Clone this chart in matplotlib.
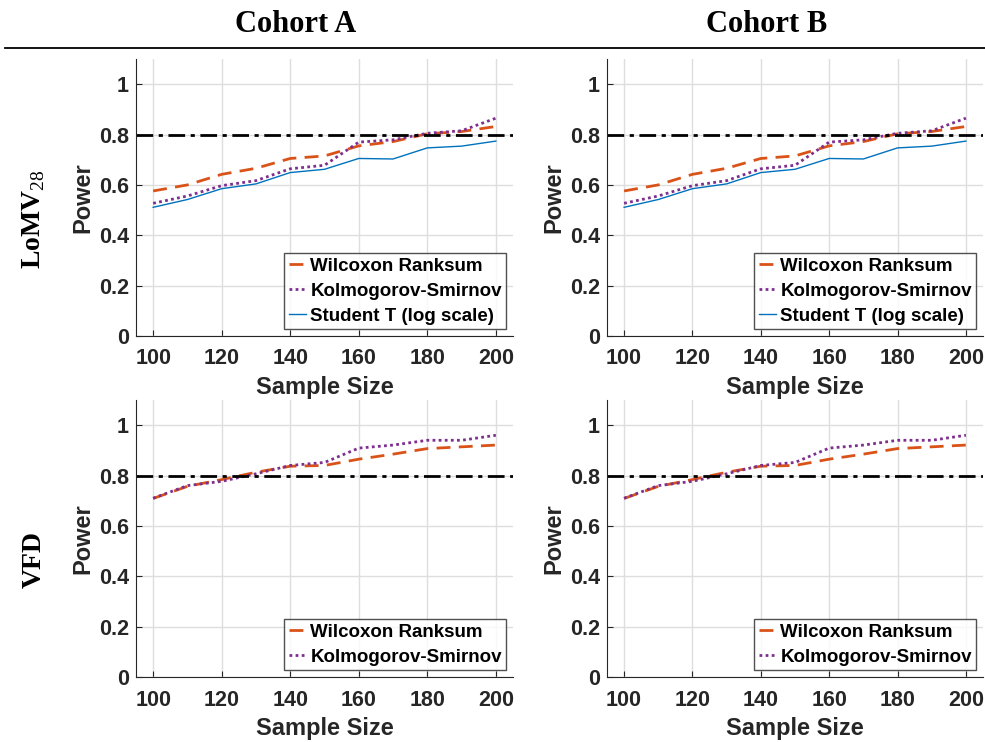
import numpy as np
import matplotlib
matplotlib.use("Agg")
import matplotlib.pyplot as plt

# Dados
sample_size = [100, 110, 120, 130, 140, 150, 160, 170, 180, 190, 200]

lomv_wilcoxon = [0.576, 0.600, 0.642, 0.666, 0.705, 0.715, 0.755, 0.772, 0.803, 0.812, 0.832]
lomv_ks = [0.527, 0.556, 0.597, 0.617, 0.664, 0.678, 0.770, 0.779, 0.805, 0.815, 0.865]
lomv_student = [0.511, 0.542, 0.585, 0.604, 0.649, 0.662, 0.705, 0.703, 0.747, 0.754, 0.774]

vfd_wilcoxon = [0.709, 0.757, 0.784, 0.813, 0.837, 0.840, 0.865, 0.885, 0.907, 0.914, 0.921]
vfd_ks = [0.710, 0.760, 0.777, 0.807, 0.840, 0.852, 0.909, 0.921, 0.940, 0.940, 0.960]

cohorts = ["Cohort A", "Cohort B"]
rows = ["LoMV$_{\\mathrm{28}}$", "VFD"]
threshold = 0.8

# Estilo
plt.rcParams['font.family'] = ['Liberation Sans', 'DejaVu Sans']
plt.rcParams['mathtext.fontset'] = 'custom'
plt.rcParams['mathtext.rm'] = 'Liberation Serif'
plt.rcParams['mathtext.bf'] = 'Liberation Serif:bold'

c_wil = '#D95319'
c_ks = '#7E2F8E'
c_st = '#0072BD'
c_ax = '#262626'

W, H = 985, 742
fig = plt.figure(figsize=(W / 100, H / 100), dpi=100)

def box(x0, y0, x1, y1):
    return [x0 / W, 1 - y1 / H, (x1 - x0) / W, (y1 - y0) / H]

pos = {
    (0, 0): box(136, 59, 513, 336),
    (0, 1): box(607, 59, 983, 336),
    (1, 0): box(136, 400, 513, 677),
    (1, 1): box(607, 400, 983, 677),
}

for (r, c), p in pos.items():
    ax = fig.add_axes(p)
    if r == 0:
        ax.plot(sample_size, lomv_wilcoxon, color=c_wil, lw=2, ls=(0, (5, 3)), label='Wilcoxon Ranksum')
        ax.plot(sample_size, lomv_ks, color=c_ks, lw=2, ls=(0, (1, 1.2)), label='Kolmogorov-Smirnov')
        ax.plot(sample_size, lomv_student, color=c_st, lw=1, label='Student T (log scale)')
    else:
        ax.plot(sample_size, vfd_wilcoxon, color=c_wil, lw=2, ls=(0, (5, 3)), label='Wilcoxon Ranksum')
        ax.plot(sample_size, vfd_ks, color=c_ks, lw=2, ls=(0, (1, 1.2)), label='Kolmogorov-Smirnov')
    ax.axhline(threshold, color='black', lw=2, ls=(0, (6, 2, 1.5, 2)))

    ax.set_xlim(95, 205)
    ax.set_ylim(0, 1.1)
    ax.set_xticks(np.arange(100, 201, 20))
    ax.set_yticks([0, 0.2, 0.4, 0.6, 0.8, 1])
    ax.set_yticklabels(['0', '0.2', '0.4', '0.6', '0.8', '1'])
    ax.grid(True, color='#dedede', lw=1)
    ax.set_axisbelow(True)
    for s in ['top', 'right']:
        ax.spines[s].set_visible(False)
    for s in ['left', 'bottom']:
        ax.spines[s].set_color(c_ax)
    ax.tick_params(direction='in', length=4, colors=c_ax, labelsize=15.5)
    ax.tick_params(axis='x', pad=9)
    ax.tick_params(axis='y', pad=5)
    for lab in ax.get_xticklabels() + ax.get_yticklabels():
        lab.set_fontweight('bold')
    ax.set_xlabel('Sample Size', fontsize=17, fontweight='bold', color=c_ax, labelpad=5)
    ax.set_ylabel('Power', fontsize=17, fontweight='bold', color=c_ax, labelpad=3)

    leg = ax.legend(loc='lower right', fontsize=13.5, frameon=True, fancybox=False,
                    edgecolor=c_ax, handlelength=0.9, handletextpad=0.25,
                    borderpad=0.25, labelspacing=0.42, borderaxespad=0.35)
    leg.get_frame().set_linewidth(1)
    for t in leg.get_texts():
        t.set_fontweight('bold')

# Cabeçalhos
for c, name in enumerate(cohorts):
    xc = [296, 767][c]
    fig.text(xc / W, 1 - 25 / H, name, ha='center', va='center',
             family='Liberation Serif', fontweight='bold', fontsize=22)
fig.add_artist(plt.Line2D([5 / W, 1], [1 - 48 / H, 1 - 48 / H], color='black', lw=1.3))

for r, name in enumerate(rows):
    yc = [219, 560][r]
    fig.text(34 / W, 1 - yc / H, name, ha='center', va='center',
             rotation=90, family='Liberation Serif', fontweight='bold', fontsize=20)

fig.savefig('out.png', dpi=100)
